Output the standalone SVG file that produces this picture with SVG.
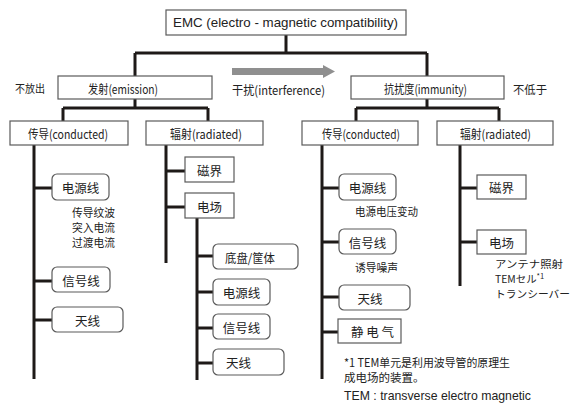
<svg xmlns="http://www.w3.org/2000/svg" width="580" height="409" viewBox="0 0 580 409">
<style>
.bg{fill:#ffffff}
.box{fill:#ffffff;stroke:#5a5a5a;stroke-width:1.2}
.rbox{fill:#ffffff;stroke:#5a5a5a;stroke-width:1.2}
.ln{fill:none;stroke:#1e1a18;stroke-width:3;stroke-linecap:butt}
.t{font-family:"Noto Sans CJK SC","Noto Sans",sans-serif;font-size:12.5px;fill:#222;dominant-baseline:central}
.n{font-family:"Noto Sans CJK SC","Noto Sans",sans-serif;font-size:11.5px;fill:#222;dominant-baseline:central}
.tj{font-family:"Noto Sans CJK JP","Noto Sans",sans-serif;font-size:12.5px;fill:#222;dominant-baseline:central}
.nj{font-family:"Noto Sans CJK JP","Noto Sans",sans-serif;font-size:10.4px;fill:#222;dominant-baseline:central}
.ta{font-family:"Liberation Sans",Arial,sans-serif;font-size:13px;fill:#222;dominant-baseline:central}
.c{text-anchor:middle}
</style>
<rect class="bg" x="0" y="0" width="580" height="409"/>
<g id="connectors">
<path class="ln" d="M286,35V53M135,53H427M135,53V76M427,53V76"/>
<path class="ln" d="M135,99V108M63,108H208M63,108V121M208,108V121"/>
<path class="ln" d="M427,99V108M356,108H499M356,108V121M499,108V121"/>
<path class="ln" d="M34,145V379M34,188H52M34,281H52M34,320H52"/>
<path class="ln" d="M166,145V263M166,171H185M166,207H185"/>
<path class="ln" d="M197,218V380M197,256H213M197,292H213M197,328H213M197,363H213"/>
<path class="ln" d="M322,145V379M322,188H339M322,242H339M322,297H339M322,332H338"/>
<path class="ln" d="M460,145V286M460,188H477M460,242H477"/>
<polygon id="interference-arrow" points="232,68 323,68 323,65 335,71.5 323,78 323,75 232,75" fill="#8f8f8f"/>
</g>
<g id="emc">
<rect class="box" x="166" y="10" width="240" height="25"/>
<text class="ta" x="173" y="22.5" textLength="225" lengthAdjust="spacingAndGlyphs">EMC (electro - magnetic compatibility)</text>
</g>
<g id="emission">
<rect class="box" x="58" y="76" width="154" height="23"/>
<text class="tj" x="88" y="88" textLength="70" lengthAdjust="spacingAndGlyphs">发射(emission)</text>
</g>
<g id="label-no-emission"><text class="n" x="15" y="88" textLength="30" lengthAdjust="spacingAndGlyphs">不放出</text></g>
<g id="label-interference"><text class="tj" x="232" y="89" textLength="93" lengthAdjust="spacingAndGlyphs">干扰(interference)</text></g>
<g id="immunity">
<rect class="box" x="351" y="76" width="153" height="23"/>
<text class="tj" x="384" y="88" textLength="83" lengthAdjust="spacingAndGlyphs">抗扰度(immunity)</text>
</g>
<g id="label-not-low"><text class="n" x="513" y="89" textLength="34" lengthAdjust="spacingAndGlyphs">不低于</text></g>
<g id="em-conducted">
<rect class="box" x="10" y="121" width="118" height="24"/>
<text class="tj" x="28" y="133" textLength="80" lengthAdjust="spacingAndGlyphs">传导(conducted)</text>
</g>
<g id="em-radiated">
<rect class="box" x="146" y="121" width="117" height="24"/>
<text class="tj" x="170" y="133" textLength="72" lengthAdjust="spacingAndGlyphs">辐射(radiated)</text>
</g>
<g id="im-conducted">
<rect class="box" x="302" y="121" width="116" height="24"/>
<text class="tj" x="322" y="133" textLength="78" lengthAdjust="spacingAndGlyphs">传导(conducted)</text>
</g>
<g id="im-radiated">
<rect class="box" x="437" y="121" width="116" height="24"/>
<text class="tj" x="460" y="133" textLength="71" lengthAdjust="spacingAndGlyphs">辐射(radiated)</text>
</g>
<g id="em-c-power">
<rect class="rbox" x="52" y="174" width="57" height="26" rx="5"/>
<text class="t c" x="80.5" y="187">电源线</text>
</g>
<g id="em-c-power-notes">
<text class="n" x="72" y="212" textLength="43" lengthAdjust="spacingAndGlyphs">传导纹波</text>
<text class="n" x="72" y="227" textLength="43" lengthAdjust="spacingAndGlyphs">突入电流</text>
<text class="n" x="72" y="242" textLength="43" lengthAdjust="spacingAndGlyphs">过渡电流</text>
</g>
<g id="em-c-signal">
<rect class="rbox" x="52" y="267" width="58" height="25" rx="5"/>
<text class="t c" x="81" y="280">信号线</text>
</g>
<g id="em-c-antenna">
<rect class="rbox" x="52" y="307" width="71" height="25" rx="5"/>
<text class="t c" x="87.5" y="320">天线</text>
</g>
<g id="em-r-magnetic">
<rect class="box" x="185" y="157" width="49" height="25"/>
<text class="t c" x="209.5" y="170">磁界</text>
</g>
<g id="em-r-electric">
<rect class="box" x="185" y="193" width="49" height="25"/>
<text class="t c" x="209.5" y="206">电场</text>
</g>
<g id="em-r-chassis">
<rect class="rbox" x="213" y="244" width="85" height="25" rx="5"/>
<text class="t" x="225" y="257" textLength="50" lengthAdjust="spacingAndGlyphs">底盘/筐体</text>
</g>
<g id="em-r-power">
<rect class="rbox" x="213" y="279" width="57" height="26" rx="5"/>
<text class="t c" x="241.5" y="292">电源线</text>
</g>
<g id="em-r-signal">
<rect class="rbox" x="213" y="314" width="57" height="25" rx="5"/>
<text class="t c" x="241.5" y="327">信号线</text>
</g>
<g id="em-r-antenna">
<rect class="rbox" x="213" y="349" width="71" height="26" rx="5"/>
<text class="t" x="226" y="362">天线</text>
</g>
<g id="im-c-power">
<rect class="rbox" x="339" y="174" width="57" height="26" rx="5"/>
<text class="t c" x="367.5" y="187">电源线</text>
</g>
<g id="im-c-power-notes"><text class="n" x="355" y="211" textLength="63" lengthAdjust="spacingAndGlyphs">电源电压变动</text></g>
<g id="im-c-signal">
<rect class="rbox" x="339" y="229" width="57" height="25" rx="5"/>
<text class="t c" x="367.5" y="242">信号线</text>
</g>
<g id="im-c-signal-notes"><text class="n" x="355" y="267" textLength="43" lengthAdjust="spacingAndGlyphs">诱导噪声</text></g>
<g id="im-c-antenna">
<rect class="rbox" x="339" y="285" width="71" height="25" rx="5"/>
<text class="t c" x="370" y="298">天线</text>
</g>
<g id="im-c-esd">
<rect class="box" x="338" y="319" width="63" height="24"/>
<text class="t" x="351" y="331">静 电 气</text>
</g>
<g id="im-r-magnetic">
<rect class="box" x="477" y="175" width="49" height="24"/>
<text class="t c" x="501.5" y="187">磁界</text>
</g>
<g id="im-r-electric">
<rect class="box" x="477" y="230" width="49" height="24"/>
<text class="t c" x="501.5" y="242">电场</text>
</g>
<g id="im-r-electric-notes">
<text class="nj" x="495" y="263" textLength="68" lengthAdjust="spacingAndGlyphs">アンテナ照射</text>
<text class="nj" x="495" y="278">TEMセル<tspan font-size="7.5" dy="-3">*1</tspan></text>
<text class="nj" x="495" y="293" textLength="75" lengthAdjust="spacingAndGlyphs">トランシーバー</text>
</g>
<g id="footnote">
<text class="n" x="344" y="362" font-size="11.5" textLength="166" lengthAdjust="spacingAndGlyphs">*1 TEM单元是利用波导管的原理生</text>
<text class="n" x="344" y="377">成电场的装置。</text>
<text class="ta" x="344" y="395" textLength="187" lengthAdjust="spacingAndGlyphs">TEM : transverse electro magnetic</text>
</g>
</svg>
